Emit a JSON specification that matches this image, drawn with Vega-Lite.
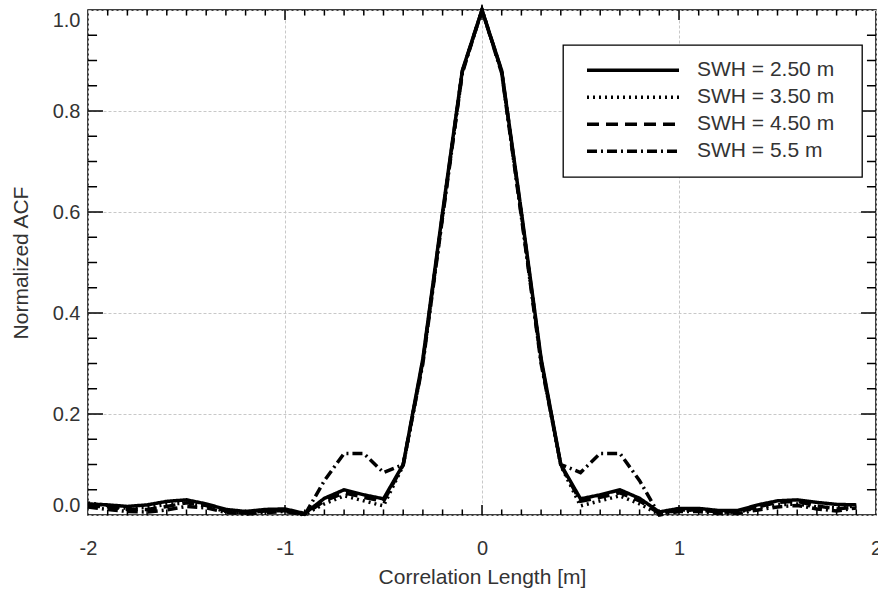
{
  "$schema": "https://vega.github.io/schema/vega-lite/v6.json",
  "width": 788,
  "height": 505,
  "autosize": {"type": "none"},
  "padding": {"left": 88, "top": 10, "right": 2, "bottom": 75},
  "background": "white",
  "config": {
    "view": {"stroke": "black", "strokeWidth": 1.5},
    "font": "Liberation Sans",
    "axis": {
      "labelFont": "Liberation Sans",
      "labelFontSize": 20,
      "labelColor": "#333333",
      "titleFont": "Liberation Sans",
      "titleFontSize": 21,
      "titleFontWeight": "normal",
      "titleColor": "#333333",
      "gridColor": "#c8c8c8",
      "gridDash": [3, 2],
      "gridWidth": 1
    },
    "legend": {
      "orient": "none",
      "legendX": 475,
      "legendY": 35,
      "strokeColor": "black",
      "strokeWidth": 1.3,
      "fillColor": "white",
      "padding": 12,
      "cornerRadius": 0,
      "symbolType": "stroke",
      "symbolSize": 8464,
      "symbolStrokeWidth": 3.5,
      "symbolStrokeColor": "black",
      "symbolOffset": 10,
      "labelOffset": 16,
      "labelFont": "Liberation Sans",
      "labelFontSize": 21,
      "labelColor": "#333333",
      "clipHeight": 26.3,
      "rowPadding": 0,
      "titleOrient": "right",
      "titleFontSize": 10,
      "titlePadding": 16
    }
  },
  "datasets": {
    "xmajor": [{"v": -1}, {"v": 0}, {"v": 1}],
    "xminor": [{"v": -1.9}, {"v": -1.8}, {"v": -1.7}, {"v": -1.6}, {"v": -1.5}, {"v": -1.4}, {"v": -1.3}, {"v": -1.2}, {"v": -1.1}, {"v": -0.9}, {"v": -0.8}, {"v": -0.7}, {"v": -0.6}, {"v": -0.5}, {"v": -0.4}, {"v": -0.3}, {"v": -0.2}, {"v": -0.1}, {"v": 0.1}, {"v": 0.2}, {"v": 0.3}, {"v": 0.4}, {"v": 0.5}, {"v": 0.6}, {"v": 0.7}, {"v": 0.8}, {"v": 0.9}, {"v": 1.1}, {"v": 1.2}, {"v": 1.3}, {"v": 1.4}, {"v": 1.5}, {"v": 1.6}, {"v": 1.7}, {"v": 1.8}, {"v": 1.9}],
    "ymajor": [{"v": 0.2}, {"v": 0.4}, {"v": 0.6}, {"v": 0.8}],
    "yminor": [{"v": 0.05}, {"v": 0.1}, {"v": 0.15}, {"v": 0.25}, {"v": 0.3}, {"v": 0.35}, {"v": 0.45}, {"v": 0.5}, {"v": 0.55}, {"v": 0.65}, {"v": 0.7}, {"v": 0.75}, {"v": 0.85}, {"v": 0.9}, {"v": 0.95}],
    "acf": [
      {"x": -2.0, "s": "SWH = 2.50 m", "y": 0.022}, {"x": -1.9, "s": "SWH = 2.50 m", "y": 0.020}, {"x": -1.8, "s": "SWH = 2.50 m", "y": 0.017}, {"x": -1.7, "s": "SWH = 2.50 m", "y": 0.020},
      {"x": -1.6, "s": "SWH = 2.50 m", "y": 0.027}, {"x": -1.5, "s": "SWH = 2.50 m", "y": 0.030}, {"x": -1.4, "s": "SWH = 2.50 m", "y": 0.022}, {"x": -1.3, "s": "SWH = 2.50 m", "y": 0.011},
      {"x": -1.2, "s": "SWH = 2.50 m", "y": 0.007}, {"x": -1.1, "s": "SWH = 2.50 m", "y": 0.011}, {"x": -1.0, "s": "SWH = 2.50 m", "y": 0.012}, {"x": -0.9, "s": "SWH = 2.50 m", "y": 0.003},
      {"x": -0.8, "s": "SWH = 2.50 m", "y": 0.033}, {"x": -0.7, "s": "SWH = 2.50 m", "y": 0.050}, {"x": -0.6, "s": "SWH = 2.50 m", "y": 0.040}, {"x": -0.5, "s": "SWH = 2.50 m", "y": 0.032},
      {"x": -0.4, "s": "SWH = 2.50 m", "y": 0.100}, {"x": -0.3, "s": "SWH = 2.50 m", "y": 0.310}, {"x": -0.2, "s": "SWH = 2.50 m", "y": 0.600}, {"x": -0.1, "s": "SWH = 2.50 m", "y": 0.880},
      {"x": 0.0, "s": "SWH = 2.50 m", "y": 1.000}, {"x": 0.1, "s": "SWH = 2.50 m", "y": 0.880}, {"x": 0.2, "s": "SWH = 2.50 m", "y": 0.600}, {"x": 0.3, "s": "SWH = 2.50 m", "y": 0.310},
      {"x": 0.4, "s": "SWH = 2.50 m", "y": 0.100}, {"x": 0.5, "s": "SWH = 2.50 m", "y": 0.032}, {"x": 0.6, "s": "SWH = 2.50 m", "y": 0.040}, {"x": 0.7, "s": "SWH = 2.50 m", "y": 0.050},
      {"x": 0.8, "s": "SWH = 2.50 m", "y": 0.033}, {"x": 0.9, "s": "SWH = 2.50 m", "y": 0.006}, {"x": 1.0, "s": "SWH = 2.50 m", "y": 0.013}, {"x": 1.1, "s": "SWH = 2.50 m", "y": 0.013},
      {"x": 1.2, "s": "SWH = 2.50 m", "y": 0.009}, {"x": 1.3, "s": "SWH = 2.50 m", "y": 0.009}, {"x": 1.4, "s": "SWH = 2.50 m", "y": 0.020}, {"x": 1.5, "s": "SWH = 2.50 m", "y": 0.028},
      {"x": 1.6, "s": "SWH = 2.50 m", "y": 0.030}, {"x": 1.7, "s": "SWH = 2.50 m", "y": 0.025}, {"x": 1.8, "s": "SWH = 2.50 m", "y": 0.021}, {"x": 1.9, "s": "SWH = 2.50 m", "y": 0.020},

      {"x": -2.0, "s": "SWH = 3.50 m", "y": 0.024}, {"x": -1.9, "s": "SWH = 3.50 m", "y": 0.019}, {"x": -1.8, "s": "SWH = 3.50 m", "y": 0.013}, {"x": -1.7, "s": "SWH = 3.50 m", "y": 0.015},
      {"x": -1.6, "s": "SWH = 3.50 m", "y": 0.021}, {"x": -1.5, "s": "SWH = 3.50 m", "y": 0.024}, {"x": -1.4, "s": "SWH = 3.50 m", "y": 0.017}, {"x": -1.3, "s": "SWH = 3.50 m", "y": 0.007},
      {"x": -1.2, "s": "SWH = 3.50 m", "y": 0.004}, {"x": -1.1, "s": "SWH = 3.50 m", "y": 0.008}, {"x": -1.0, "s": "SWH = 3.50 m", "y": 0.010}, {"x": -0.9, "s": "SWH = 3.50 m", "y": 0.001},
      {"x": -0.8, "s": "SWH = 3.50 m", "y": 0.022}, {"x": -0.7, "s": "SWH = 3.50 m", "y": 0.038}, {"x": -0.6, "s": "SWH = 3.50 m", "y": 0.028}, {"x": -0.5, "s": "SWH = 3.50 m", "y": 0.018},
      {"x": -0.4, "s": "SWH = 3.50 m", "y": 0.098}, {"x": -0.3, "s": "SWH = 3.50 m", "y": 0.305}, {"x": -0.2, "s": "SWH = 3.50 m", "y": 0.595}, {"x": -0.1, "s": "SWH = 3.50 m", "y": 0.878},
      {"x": 0.0, "s": "SWH = 3.50 m", "y": 1.000}, {"x": 0.1, "s": "SWH = 3.50 m", "y": 0.878}, {"x": 0.2, "s": "SWH = 3.50 m", "y": 0.595}, {"x": 0.3, "s": "SWH = 3.50 m", "y": 0.305},
      {"x": 0.4, "s": "SWH = 3.50 m", "y": 0.098}, {"x": 0.5, "s": "SWH = 3.50 m", "y": 0.018}, {"x": 0.6, "s": "SWH = 3.50 m", "y": 0.028}, {"x": 0.7, "s": "SWH = 3.50 m", "y": 0.038},
      {"x": 0.8, "s": "SWH = 3.50 m", "y": 0.022}, {"x": 0.9, "s": "SWH = 3.50 m", "y": 0.001}, {"x": 1.0, "s": "SWH = 3.50 m", "y": 0.010}, {"x": 1.1, "s": "SWH = 3.50 m", "y": 0.010},
      {"x": 1.2, "s": "SWH = 3.50 m", "y": 0.006}, {"x": 1.3, "s": "SWH = 3.50 m", "y": 0.006}, {"x": 1.4, "s": "SWH = 3.50 m", "y": 0.014}, {"x": 1.5, "s": "SWH = 3.50 m", "y": 0.020},
      {"x": 1.6, "s": "SWH = 3.50 m", "y": 0.022}, {"x": 1.7, "s": "SWH = 3.50 m", "y": 0.016}, {"x": 1.8, "s": "SWH = 3.50 m", "y": 0.014}, {"x": 1.9, "s": "SWH = 3.50 m", "y": 0.018},

      {"x": -2.0, "s": "SWH = 4.50 m", "y": 0.018}, {"x": -1.9, "s": "SWH = 4.50 m", "y": 0.016}, {"x": -1.8, "s": "SWH = 4.50 m", "y": 0.011}, {"x": -1.7, "s": "SWH = 4.50 m", "y": 0.011},
      {"x": -1.6, "s": "SWH = 4.50 m", "y": 0.017}, {"x": -1.5, "s": "SWH = 4.50 m", "y": 0.024}, {"x": -1.4, "s": "SWH = 4.50 m", "y": 0.019}, {"x": -1.3, "s": "SWH = 4.50 m", "y": 0.008},
      {"x": -1.2, "s": "SWH = 4.50 m", "y": 0.004}, {"x": -1.1, "s": "SWH = 4.50 m", "y": 0.008}, {"x": -1.0, "s": "SWH = 4.50 m", "y": 0.009}, {"x": -0.9, "s": "SWH = 4.50 m", "y": 0.001},
      {"x": -0.8, "s": "SWH = 4.50 m", "y": 0.028}, {"x": -0.7, "s": "SWH = 4.50 m", "y": 0.044}, {"x": -0.6, "s": "SWH = 4.50 m", "y": 0.035}, {"x": -0.5, "s": "SWH = 4.50 m", "y": 0.027},
      {"x": -0.4, "s": "SWH = 4.50 m", "y": 0.099}, {"x": -0.3, "s": "SWH = 4.50 m", "y": 0.305}, {"x": -0.2, "s": "SWH = 4.50 m", "y": 0.595}, {"x": -0.1, "s": "SWH = 4.50 m", "y": 0.878},
      {"x": 0.0, "s": "SWH = 4.50 m", "y": 1.000}, {"x": 0.1, "s": "SWH = 4.50 m", "y": 0.878}, {"x": 0.2, "s": "SWH = 4.50 m", "y": 0.595}, {"x": 0.3, "s": "SWH = 4.50 m", "y": 0.305},
      {"x": 0.4, "s": "SWH = 4.50 m", "y": 0.099}, {"x": 0.5, "s": "SWH = 4.50 m", "y": 0.027}, {"x": 0.6, "s": "SWH = 4.50 m", "y": 0.035}, {"x": 0.7, "s": "SWH = 4.50 m", "y": 0.044},
      {"x": 0.8, "s": "SWH = 4.50 m", "y": 0.028}, {"x": 0.9, "s": "SWH = 4.50 m", "y": 0.003}, {"x": 1.0, "s": "SWH = 4.50 m", "y": 0.010}, {"x": 1.1, "s": "SWH = 4.50 m", "y": 0.010},
      {"x": 1.2, "s": "SWH = 4.50 m", "y": 0.006}, {"x": 1.3, "s": "SWH = 4.50 m", "y": 0.006}, {"x": 1.4, "s": "SWH = 4.50 m", "y": 0.016}, {"x": 1.5, "s": "SWH = 4.50 m", "y": 0.025},
      {"x": 1.6, "s": "SWH = 4.50 m", "y": 0.027}, {"x": 1.7, "s": "SWH = 4.50 m", "y": 0.018}, {"x": 1.8, "s": "SWH = 4.50 m", "y": 0.012}, {"x": 1.9, "s": "SWH = 4.50 m", "y": 0.016},

      {"x": -2.0, "s": "SWH = 5.5 m", "y": 0.016}, {"x": -1.9, "s": "SWH = 5.5 m", "y": 0.011}, {"x": -1.8, "s": "SWH = 5.5 m", "y": 0.007}, {"x": -1.7, "s": "SWH = 5.5 m", "y": 0.006},
      {"x": -1.6, "s": "SWH = 5.5 m", "y": 0.010}, {"x": -1.5, "s": "SWH = 5.5 m", "y": 0.017}, {"x": -1.4, "s": "SWH = 5.5 m", "y": 0.014}, {"x": -1.3, "s": "SWH = 5.5 m", "y": 0.005},
      {"x": -1.2, "s": "SWH = 5.5 m", "y": 0.002}, {"x": -1.1, "s": "SWH = 5.5 m", "y": 0.005}, {"x": -1.0, "s": "SWH = 5.5 m", "y": 0.007}, {"x": -0.9, "s": "SWH = 5.5 m", "y": 0.000},
      {"x": -0.8, "s": "SWH = 5.5 m", "y": 0.068}, {"x": -0.7, "s": "SWH = 5.5 m", "y": 0.122}, {"x": -0.6, "s": "SWH = 5.5 m", "y": 0.122}, {"x": -0.5, "s": "SWH = 5.5 m", "y": 0.084},
      {"x": -0.4, "s": "SWH = 5.5 m", "y": 0.100}, {"x": -0.3, "s": "SWH = 5.5 m", "y": 0.300}, {"x": -0.2, "s": "SWH = 5.5 m", "y": 0.590}, {"x": -0.1, "s": "SWH = 5.5 m", "y": 0.875},
      {"x": 0.0, "s": "SWH = 5.5 m", "y": 1.000}, {"x": 0.1, "s": "SWH = 5.5 m", "y": 0.875}, {"x": 0.2, "s": "SWH = 5.5 m", "y": 0.590}, {"x": 0.3, "s": "SWH = 5.5 m", "y": 0.300},
      {"x": 0.4, "s": "SWH = 5.5 m", "y": 0.100}, {"x": 0.5, "s": "SWH = 5.5 m", "y": 0.084}, {"x": 0.6, "s": "SWH = 5.5 m", "y": 0.122}, {"x": 0.7, "s": "SWH = 5.5 m", "y": 0.122},
      {"x": 0.8, "s": "SWH = 5.5 m", "y": 0.068}, {"x": 0.9, "s": "SWH = 5.5 m", "y": 0.000}, {"x": 1.0, "s": "SWH = 5.5 m", "y": 0.007}, {"x": 1.1, "s": "SWH = 5.5 m", "y": 0.007},
      {"x": 1.2, "s": "SWH = 5.5 m", "y": 0.003}, {"x": 1.3, "s": "SWH = 5.5 m", "y": 0.003}, {"x": 1.4, "s": "SWH = 5.5 m", "y": 0.010}, {"x": 1.5, "s": "SWH = 5.5 m", "y": 0.016},
      {"x": 1.6, "s": "SWH = 5.5 m", "y": 0.019}, {"x": 1.7, "s": "SWH = 5.5 m", "y": 0.012}, {"x": 1.8, "s": "SWH = 5.5 m", "y": 0.008}, {"x": 1.9, "s": "SWH = 5.5 m", "y": 0.014}
    ]
  },
  "resolve": {"axis": {"x": "independent", "y": "independent"}},
  "layer": [
    {
      "data": {"name": "xminor"},
      "mark": {"type": "rule", "stroke": "#000000", "strokeWidth": 1.5, "clip": false},
      "encoding": {
        "x": {"field": "v", "type": "quantitative", "axis": null},
        "y": {"datum": 0, "type": "quantitative", "axis": null},
        "y2": {"datum": 0.011}
      }
    },
    {
      "data": {"name": "xminor"},
      "mark": {"type": "rule", "stroke": "#000000", "strokeWidth": 1.5, "clip": false},
      "encoding": {
        "x": {"field": "v", "type": "quantitative", "axis": null},
        "y": {"datum": 1, "type": "quantitative", "axis": null},
        "y2": {"datum": 0.989}
      }
    },
    {
      "data": {"name": "xmajor"},
      "mark": {"type": "rule", "stroke": "#000000", "strokeWidth": 1.5, "clip": false},
      "encoding": {
        "x": {"field": "v", "type": "quantitative", "axis": null},
        "y": {"datum": 0, "type": "quantitative", "axis": null},
        "y2": {"datum": 0.02}
      }
    },
    {
      "data": {"name": "xmajor"},
      "mark": {"type": "rule", "stroke": "#000000", "strokeWidth": 1.5, "clip": false},
      "encoding": {
        "x": {"field": "v", "type": "quantitative", "axis": null},
        "y": {"datum": 1, "type": "quantitative", "axis": null},
        "y2": {"datum": 0.98}
      }
    },
    {
      "data": {"name": "yminor"},
      "mark": {"type": "rule", "stroke": "#000000", "strokeWidth": 1.5, "clip": false},
      "encoding": {
        "y": {"field": "v", "type": "quantitative", "axis": null},
        "x": {"datum": -2, "type": "quantitative", "axis": null},
        "x2": {"datum": -1.954}
      }
    },
    {
      "data": {"name": "yminor"},
      "mark": {"type": "rule", "stroke": "#000000", "strokeWidth": 1.5, "clip": false},
      "encoding": {
        "y": {"field": "v", "type": "quantitative", "axis": null},
        "x": {"datum": 2, "type": "quantitative", "axis": null},
        "x2": {"datum": 1.954}
      }
    },
    {
      "data": {"name": "ymajor"},
      "mark": {"type": "rule", "stroke": "#000000", "strokeWidth": 1.5, "clip": false},
      "encoding": {
        "y": {"field": "v", "type": "quantitative", "axis": null},
        "x": {"datum": -2, "type": "quantitative", "axis": null},
        "x2": {"datum": -1.924}
      }
    },
    {
      "data": {"name": "ymajor"},
      "mark": {"type": "rule", "stroke": "#000000", "strokeWidth": 1.5, "clip": false},
      "encoding": {
        "y": {"field": "v", "type": "quantitative", "axis": null},
        "x": {"datum": 2, "type": "quantitative", "axis": null},
        "x2": {"datum": 1.924}
      }
    },
    {
      "data": {"name": "acf"},
      "mark": {"type": "line", "color": "black", "strokeWidth": 3.5, "clip": false},
      "encoding": {
        "x": {"field": "x", "type": "quantitative", "scale": {"domain": [-2, 2], "nice": false, "zero": false},
          "axis": {"orient": "bottom", "values": [-2, -1, 0, 1, 2], "domain": false, "ticks": false, "labelPadding": 23, "labelFlush": false, "labelExpr": "'' + datum.value", "grid": true, "title": "Correlation Length [m]", "titleY": 68, "titleBaseline": "alphabetic"}},
        "y": {"field": "y", "type": "quantitative", "scale": {"domain": [0, 1], "nice": false, "zero": false},
          "axis": {"orient": "left", "values": [0, 0.2, 0.4, 0.6, 0.8, 1.0], "format": ".1f", "domain": false, "ticks": false, "labelPadding": 8, "labelFlush": true, "grid": true, "title": "Normalized ACF", "titleX": -61, "titleBaseline": "alphabetic"}},
        "strokeDash": {
          "field": "s", "type": "nominal",
          "scale": {"domain": ["SWH = 2.50 m", "SWH = 3.50 m", "SWH = 4.50 m", "SWH = 5.5 m"], "range": [[1, 0], [2, 4], [12, 7], [10, 4, 2, 4]]},
          "legend": {"title": " "}
        }
      }
    }
  ]
}
